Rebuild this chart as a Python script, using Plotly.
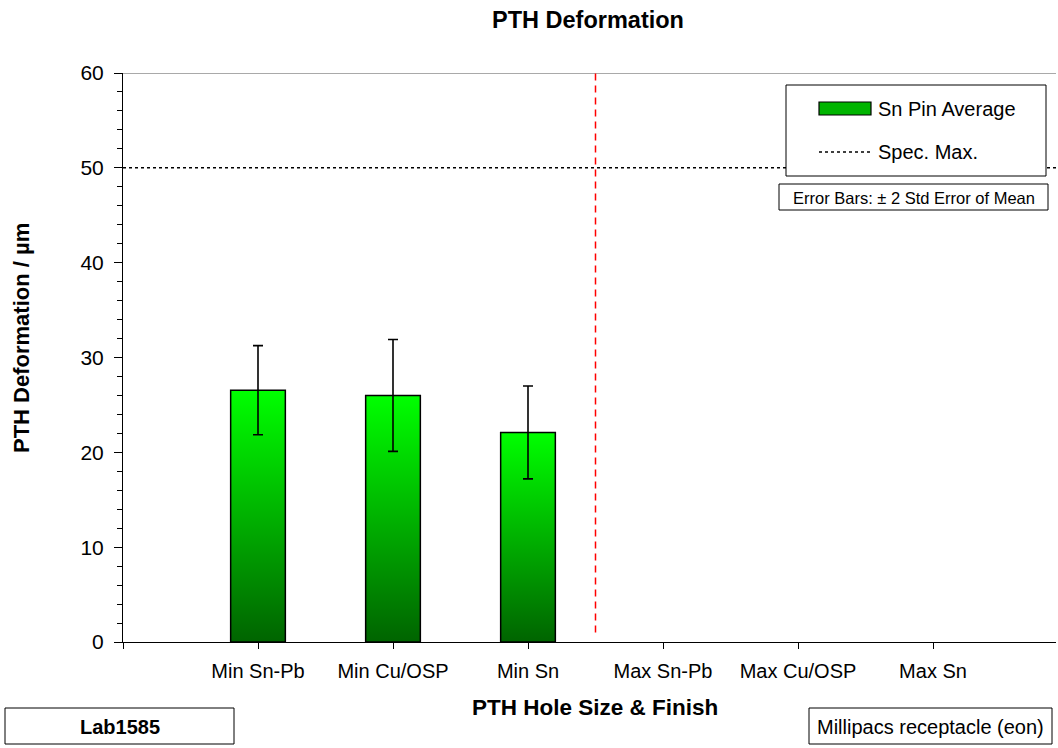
import plotly.graph_objects as go

# ---- data ----
categories = ["Min Sn-Pb", "Min Cu/OSP", "Min Sn", "Max Sn-Pb", "Max Cu/OSP", "Max Sn"]
sn_pin_average = [26.55, 26.0, 22.1, None, None, None]   # µm
error_2sem = [4.7, 5.9, 4.9, None, None, None]           # ± 2 std error of mean
spec_max = 50
divider_x = 3.5
divider_y = [1, 60]

# ---- geometry of the page ----
W, H = 1058, 748
L, R, T, B = 123, 2, 73, 106
X_MAX = (W - L - R) / 135.0
BAR_W = 0.405
FONT = "Arial, Liberation Sans, sans-serif"


def px(x):
    return (x - L) / (W - L - R)


def py(y):
    return (H - B - y) / (H - T - B)


fig = go.Figure()

# bars with a vertical bright-to-dark green gradient
for i, v in enumerate(sn_pin_average):
    if v is None:
        continue
    c = i + 1
    fig.add_trace(go.Scatter(
        x=[c - BAR_W / 2, c - BAR_W / 2, c + BAR_W / 2, c + BAR_W / 2, c - BAR_W / 2],
        y=[0, v, v, 0, 0],
        mode="lines", fill="toself",
        fillgradient=dict(type="vertical",
                          colorscale=[[0, "#006400"], [1, "#00ff00"]]),
        line=dict(color="black", width=1.5),
        hoverinfo="skip", showlegend=False,
    ))

# error bars
xs = [i + 1 for i, v in enumerate(sn_pin_average) if v is not None]
ys = [v for v in sn_pin_average if v is not None]
es = [e for e in error_2sem if e is not None]
fig.add_trace(go.Scatter(
    x=xs, y=ys, mode="markers",
    marker=dict(size=1, opacity=0),
    error_y=dict(type="data", array=es, visible=True,
                 color="black", thickness=1.6, width=5),
    showlegend=False, hoverinfo="skip",
))

# red dashed divider between Min and Max groups
fig.add_trace(go.Scatter(
    x=[divider_x, divider_x], y=divider_y, mode="lines",
    line=dict(color="#ff0000", width=1.5, dash="7px,5px"),
    showlegend=False, hoverinfo="skip",
))

shapes = []
# top border of the plot area
shapes.append(dict(type="line", xref="paper", yref="y", x0=0, x1=1, y0=60, y1=60,
                   line=dict(color="#8c8c8c", width=1.5), layer="below"))
# spec max line
shapes.append(dict(type="line", xref="paper", yref="y", x0=0, x1=1,
                   y0=spec_max, y1=spec_max,
                   line=dict(color="black", width=1.5, dash="3px,3px")))

# legend box
shapes.append(dict(type="rect", xref="paper", yref="paper",
                   x0=px(786), x1=px(1046), y0=py(85), y1=py(176),
                   line=dict(color="black", width=1), fillcolor="white"))
shapes.append(dict(type="rect", xref="paper", yref="paper",
                   x0=px(819), x1=px(871), y0=py(102), y1=py(115),
                   line=dict(color="black", width=1.2), fillcolor="#00b400"))
shapes.append(dict(type="line", xref="paper", yref="paper",
                   x0=px(819), x1=px(871), y0=py(152), y1=py(152),
                   line=dict(color="black", width=1.5, dash="3px,3px")))
# error bar note box
shapes.append(dict(type="rect", xref="paper", yref="paper",
                   x0=px(779), x1=px(1048), y0=py(184), y1=py(210),
                   line=dict(color="black", width=1), fillcolor="white"))
# bottom boxes
shapes.append(dict(type="rect", xref="paper", yref="paper",
                   x0=px(5), x1=px(234), y0=py(708), y1=py(744),
                   line=dict(color="black", width=1), fillcolor="white"))
shapes.append(dict(type="rect", xref="paper", yref="paper",
                   x0=px(809), x1=px(1052), y0=py(708), y1=py(744),
                   line=dict(color="black", width=1), fillcolor="white"))

annotations = [
    dict(text="Sn Pin Average", x=px(876), y=py(109), xanchor="left", yanchor="middle",
         font=dict(size=20, color="black")),
    dict(text="Spec. Max.", x=px(876), y=py(152), xanchor="left", yanchor="middle",
         font=dict(size=20, color="black")),
    dict(text="Error Bars: ± 2 Std Error of Mean", x=px(913.5), y=py(197.5),
         xanchor="center", yanchor="middle", font=dict(size=16.5, color="black")),
    dict(text="<b>Lab1585</b>", x=px(119.5), y=py(727), xanchor="center", yanchor="middle",
         font=dict(size=20, color="black")),
    dict(text="Millipacs receptacle (eon)", x=px(930.5), y=py(727),
         xanchor="center", yanchor="middle", font=dict(size=20, color="black")),
    dict(text="<b>PTH Hole Size &amp; Finish</b>", x=px(595), y=py(707),
         xanchor="center", yanchor="middle", font=dict(size=22.5, color="black")),
    dict(text="<b>PTH Deformation / µm</b>", x=px(21), y=py(338), textangle=-90,
         xanchor="center", yanchor="middle", font=dict(size=22, color="black")),
]
for a in annotations:
    a.update(xref="paper", yref="paper", showarrow=False)

fig.update_layout(
    width=W, height=H,
    margin=dict(l=L, r=R, t=T, b=B),
    paper_bgcolor="white", plot_bgcolor="white",
    font=dict(family=FONT, color="black"),
    title=dict(text="<b>PTH Deformation</b>", x=px(588), xref="paper",
               y=1 - 19.5 / H, yref="container", xanchor="center", yanchor="middle",
               font=dict(size=23.5, color="black")),
    shapes=shapes,
    annotations=annotations,
    showlegend=False,
)

fig.update_xaxes(
    range=[0, X_MAX], tickmode="array",
    tickvals=list(range(0, len(categories) + 1)),
    ticktext=[""] + categories,
    showgrid=False, zeroline=False,
    showline=True, linecolor="black", linewidth=1,
    ticks="outside", ticklen=6, tickcolor="black", tickwidth=1,
    tickfont=dict(size=20, color="black"), ticklabelstandoff=5,
)
fig.update_yaxes(
    range=[0, 60], tickmode="linear", tick0=0, dtick=10,
    showgrid=False, zeroline=False,
    showline=True, linecolor="black", linewidth=1,
    ticks="outside", ticklen=8, tickcolor="black", tickwidth=1,
    minor=dict(ticks="outside", ticklen=5, dtick=2, tickcolor="black", tickwidth=1),
    tickfont=dict(size=21, color="black"), ticklabelstandoff=6,
)

fig.write_html("out.html")
